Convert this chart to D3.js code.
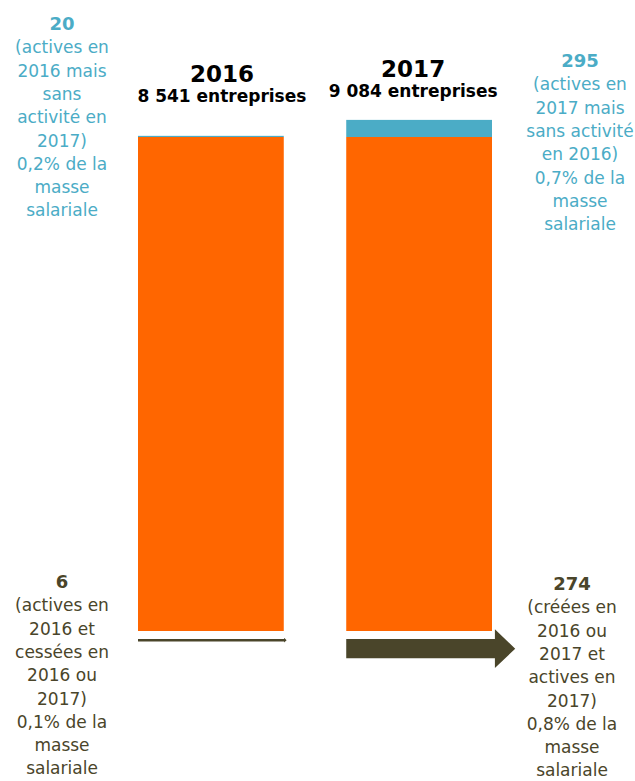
<!DOCTYPE html>
<html>
<head>
<meta charset="utf-8">
<script src="https://cdn.jsdelivr.net/npm/d3@7"></script>
<style>
  body { margin: 0; background: #fff; }
  svg { display: block; font-family: "DejaVu Sans", Verdana, sans-serif; }
</style>
</head>
<body>
<script>
"use strict";

// values
let years = ["2016", "2017"];
let totals = [8541, 9084];
let onlyOneYear = [20, 295];     // blue part on top of each bar
let flows = [6, 274];            // ceased (2016) / created (2017)
let headerSub = ["8 541 entreprises", "9 084 entreprises"];

let topLeftLines = ["20", "(actives en", "2016 mais", "sans", "activité en", "2017)", "0,2% de la", "masse", "salariale"];
let topRightLines = ["295", "(actives en", "2017 mais", "sans activité", "en 2016)", "0,7% de la", "masse", "salariale"];
let bottomLeftLines = ["6", "(actives en", "2016 et", "cessées en", "2016 ou", "2017)", "0,1% de la", "masse", "salariale"];
let bottomRightLines = ["274", "(créées en", "2016 ou", "2017 et", "actives en", "2017)", "0,8% de la", "masse", "salariale"];

let orange = "#ff6600", blue = "#4bacc6", olive = "#4a452a";

let W = 635, H = 781;
let svg = d3.select("body").append("svg").attr("width", W).attr("height", H);

// common part = total minus the one-year-only and the flow
let common = totals.map((t, i) => t - onlyOneYear[i] - flows[i]);

let x = d3.scaleBand().domain(years).range([138, 492]).paddingInner(0.3);
let y = d3.scaleLinear().domain([0, d3.max(common)]).range([631, 137]);
let thick = d3.scaleLinear().domain([0, 300]).range([2, 21]);

let rows = years.map((yr, i) => ({ yr, common: common[i], only: onlyOneYear[i], flow: flows[i] }));

// orange common part
svg.append("g").selectAll("rect")
  .data(rows).enter().append("rect")
  .attr("x", d => x(d.yr))
  .attr("width", x.bandwidth())
  .attr("y", d => y(d.common))
  .attr("height", d => y(0) - y(d.common))
  .attr("fill", orange);

// blue part
svg.append("g").selectAll("rect")
  .data(rows).enter().append("rect")
  .attr("x", d => x(d.yr))
  .attr("width", x.bandwidth())
  .attr("y", d => y(d.common + d.only))
  .attr("height", d => y(d.common) - y(d.common + d.only))
  .attr("fill", blue);

// arrows under the bars
let arrowPath = d => {
  let t = thick(d.flow);
  let cy = y(0) + 8 + t / 2;
  let x0 = x(d.yr), x1 = x(d.yr) + x.bandwidth() + t * 0.15;
  let hl = t * 1.05, hh = t;
  return `M${x0},${cy - t / 2}L${x1},${cy - t / 2}L${x1},${cy - hh}L${x1 + hl},${cy}` +
         `L${x1},${cy + hh}L${x1},${cy + t / 2}L${x0},${cy + t / 2}Z`;
};
svg.append("g").selectAll("path")
  .data(rows).enter().append("path")
  .attr("d", arrowPath)
  .attr("fill", olive);

// headers
let headerPos = [{ dx: 11, base: 82 }, { dx: -6, base: 77 }];
let hdr = svg.append("g").selectAll("g")
  .data(rows).enter().append("g")
  .attr("transform", (d, i) => `translate(${x(d.yr) + x.bandwidth() / 2 + headerPos[i].dx},${headerPos[i].base})`);
hdr.append("text")
  .attr("text-anchor", "middle")
  .attr("font-size", 23).attr("font-weight", "bold").attr("fill", "#000")
  .text(d => d.yr);
hdr.append("text")
  .attr("text-anchor", "middle").attr("y", 20)
  .attr("font-size", 17).attr("font-weight", "bold").attr("fill", "#000")
  .text((d, i) => headerSub[i]);

// side notes
let notes = [
  { lines: topLeftLines, cx: 62, base: 30, color: blue },
  { lines: topRightLines, cx: 580, base: 67, color: blue },
  { lines: bottomLeftLines, cx: 62, base: 588, color: olive },
  { lines: bottomRightLines, cx: 572, base: 590, color: olive }
];
notes.forEach(n => {
  let t = svg.append("text")
    .attr("text-anchor", "middle")
    .attr("fill", n.color);
  t.selectAll("tspan")
    .data(n.lines).enter().append("tspan")
    .attr("x", n.cx)
    .attr("y", (d, i) => n.base + i * 23.3)
    .attr("font-size", (d, i) => i == 0 ? 18 : 17)
    .attr("font-weight", (d, i) => i == 0 ? "bold" : "normal")
    .text(d => d);
});
</script>
</body>
</html>
